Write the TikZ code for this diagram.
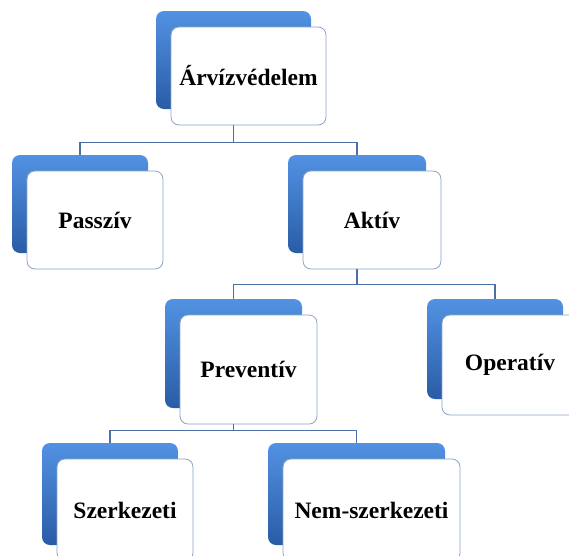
\documentclass[tikz,border=0pt]{standalone}
\usepackage{fontspec}
\setmainfont{Liberation Serif}
\definecolor{blueTop}{RGB}{82,146,226}
\definecolor{blueBot}{RGB}{42,92,166}
\definecolor{frameBlue}{RGB}{140,164,200}
\definecolor{linkBlue}{RGB}{74,112,166}
\begin{document}
\begin{tikzpicture}[x=1pt,y=-1pt,
	back/.style={draw=none, rounded corners=8pt, top color=blueTop, bottom color=blueBot, inner sep=0pt},
	front/.style={draw=frameBlue, line width=0.8pt, fill=white, rounded corners=8pt, inner sep=0pt,
		font=\fontsize{23.5}{28}\selectfont\bfseries},
	size/.style 2 args={minimum width=#1, minimum height=#2},
	link/.style={draw=linkBlue, line width=1.7pt}]
	\clip (0,0) rectangle (569,555);
	\fill[white] (0,0) rectangle (569,555);
	
	% Define root
	\node[back, size={155pt}{98pt}] (RootBack) at (233.5,60) {};
	\node[front, size={155pt}{98pt}] (Root) at (248.5,76) {Árvízvédelem};
	
	% Define passive and active
	\node[back, size={136pt}{98pt}] (PassiveBack) at (80,204) {};
	\node[front, size={136pt}{98pt}] (Passive) at (95,220) {Passzív};
	
	\node[back, size={138pt}{98pt}] (ActiveBack) at (357,204) {};
	\node[front, size={138pt}{98pt}] (Active) at (372,220) {Aktív};
	
	\draw[link] ([xshift=-15pt]Root.south) -- ++(0,17) -| (PassiveBack.north);
	\draw[link] ([xshift=-15pt]Root.south) -- ++(0,17) -| (ActiveBack.north);
	
	% Define preventive and operative
	\node[back, size={137pt}{109pt}] (PreventBack) at (233.5,353.5) {};
	\node[front, size={137pt}{109pt}] (Prevent) at (248.5,369.5) {Preventív};
	
	\node[back, size={136pt}{100pt}] (OperBack) at (495,349) {};
	\node[front, size={136pt}{100pt}] (Oper) at (510,365) {Operatív};
	
	\draw[link] ([xshift=-15pt]Active.south) -- ++(0,15) -| (PreventBack.north);
	\draw[link] ([xshift=-15pt]Active.south) -- ++(0,15) -| (OperBack.north);
	
	% Define structural and non-structural
	\node[back, size={136pt}{102pt}] (StructBack) at (110,494) {};
	\node[front, size={136pt}{102pt}] (Struct) at (125,510) {Szerkezeti};
	
	\node[back, size={177pt}{102pt}] (NonStructBack) at (356.5,494) {};
	\node[front, size={177pt}{102pt}] (NonStruct) at (371.5,510) {Nem-szerkezeti};
	
	\draw[link] ([xshift=-15pt]Prevent.south) -- ++(0,6) -| (StructBack.north);
	\draw[link] ([xshift=-15pt]Prevent.south) -- ++(0,6) -| (NonStructBack.north);
\end{tikzpicture}
\end{document}
